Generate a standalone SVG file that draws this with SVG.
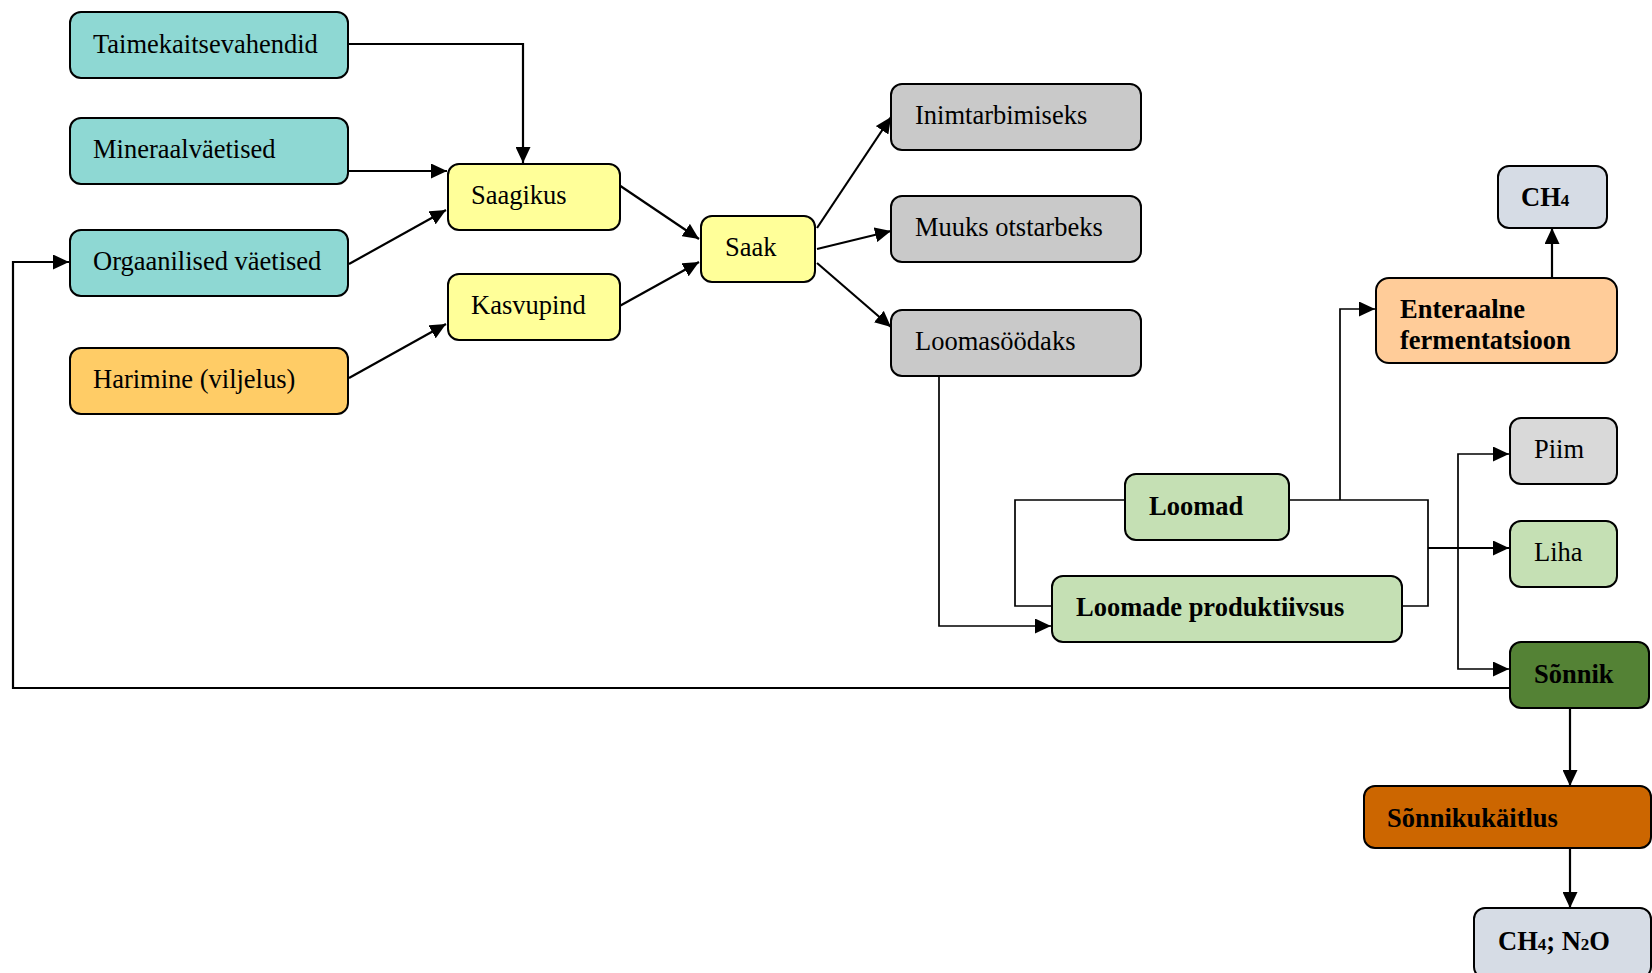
<svg xmlns="http://www.w3.org/2000/svg" width="1652" height="973" viewBox="0 0 1652 973">
<style>
.n rect{stroke:#000;stroke-width:2}
.n text{font-family:"Liberation Serif","Times New Roman",serif;font-size:26.5px;fill:#000}
.b text{font-weight:bold}
.c path{fill:none;stroke:#000;stroke-width:2.2}
.c path.t{stroke-width:1.7}
.teal{fill:#8ED8D3}.yel{fill:#FFFF99}.gry{fill:#C9C9C9}.grn{fill:#C5E0B4}
.blu{fill:#D6DCE5}
</style>
<defs>
<marker id="a" markerUnits="userSpaceOnUse" markerWidth="16" markerHeight="15" refX="16" refY="7.5" orient="auto">
<path d="M0,0 L16,7.5 L0,15 z" fill="#000"/>
</marker>
</defs>
<rect width="1652" height="973" fill="#fff"/>
<g class="c">
<path d="M348,44 H523 V163" marker-end="url(#a)"/>
<path d="M349,171 H447" marker-end="url(#a)"/>
<path d="M349,264 L446,210" marker-end="url(#a)"/>
<path d="M349,378 L446,324" marker-end="url(#a)"/>
<path d="M616,183 L699,239" marker-end="url(#a)"/>
<path d="M616,308 L699,262" marker-end="url(#a)"/>
<path d="M817,228 L891,117" marker-end="url(#a)"/>
<path d="M817,249 L891,231" marker-end="url(#a)"/>
<path d="M817,263 L891,327" marker-end="url(#a)"/>
<path class="t" d="M939,376 V626 H1051" marker-end="url(#a)"/>
<path class="t" d="M1125,500 H1015 V606 H1051"/>
<path class="t" d="M1289,500 H1428 V606 H1402"/>
<path class="t" d="M1340,500 V309 H1375" marker-end="url(#a)"/>
<path d="M1428,548 H1509" marker-end="url(#a)"/>
<path class="t" d="M1458,548 V454 H1509" marker-end="url(#a)"/>
<path class="t" d="M1458,548 V669 H1509" marker-end="url(#a)"/>
<path d="M1552,277 V228" marker-end="url(#a)"/>
<path d="M1570,708 V786" marker-end="url(#a)"/>
<path d="M1570,848 V908" marker-end="url(#a)"/>
<path d="M1510,688 H13 V262 H69" marker-end="url(#a)"/>
</g>
<g id="taimekaitsevahendid" class="n"><rect x="70" y="12" width="278" height="66" rx="11" class="teal"/><text x="93" y="53">Taimekaitsevahendid</text></g>
<g id="mineraalvaetised" class="n"><rect x="70" y="118" width="278" height="66" rx="11" class="teal"/><text x="93" y="158">Mineraalväetised</text></g>
<g id="orgaanilised" class="n"><rect x="70" y="230" width="278" height="66" rx="11" class="teal"/><text x="93" y="270">Orgaanilised väetised</text></g>
<g id="harimine" class="n"><rect x="70" y="348" width="278" height="66" rx="11" fill="#FFCC66"/><text x="93" y="388">Harimine (viljelus)</text></g>
<g id="saagikus" class="n"><rect x="448" y="164" width="172" height="66" rx="11" class="yel"/><text x="471" y="204">Saagikus</text></g>
<g id="kasvupind" class="n"><rect x="448" y="274" width="172" height="66" rx="11" class="yel"/><text x="471" y="314">Kasvupind</text></g>
<g id="saak" class="n"><rect x="701" y="216" width="114" height="66" rx="11" class="yel"/><text x="725" y="256">Saak</text></g>
<g id="inimtarbimiseks" class="n"><rect x="891" y="84" width="250" height="66" rx="11" class="gry"/><text x="915" y="124">Inimtarbimiseks</text></g>
<g id="muuks" class="n"><rect x="891" y="196" width="250" height="66" rx="11" class="gry"/><text x="915" y="236">Muuks otstarbeks</text></g>
<g id="loomasoodaks" class="n"><rect x="891" y="310" width="250" height="66" rx="11" class="gry"/><text x="915" y="350">Loomasöödaks</text></g>
<g id="ch4" class="n b"><rect x="1498" y="166" width="109" height="62" rx="11" class="blu"/><text x="1521" y="206">CH<tspan font-size="17">4</tspan></text></g>
<g id="enteraalne" class="n b"><rect x="1376" y="278" width="241" height="85" rx="13" fill="#FFCC99"/><text x="1400" y="318">Enteraalne</text><text x="1400" y="349">fermentatsioon</text></g>
<g id="piim" class="n"><rect x="1510" y="418" width="107" height="66" rx="11" fill="#D9D9D9"/><text x="1534" y="458">Piim</text></g>
<g id="liha" class="n"><rect x="1510" y="521" width="107" height="66" rx="11" class="grn"/><text x="1534" y="561">Liha</text></g>
<g id="sonnik" class="n b"><rect x="1510" y="642" width="139" height="66" rx="11" fill="#548235"/><text x="1534" y="683">Sõnnik</text></g>
<g id="loomad" class="n b"><rect x="1125" y="474" width="164" height="66" rx="11" class="grn"/><text x="1149" y="515">Loomad</text></g>
<g id="produktiivsus" class="n b"><rect x="1052" y="576" width="350" height="66" rx="11" class="grn"/><text x="1076" y="616">Loomade produktiivsus</text></g>
<g id="sonnikukaitlus" class="n b"><rect x="1364" y="786" width="287" height="62" rx="11" fill="#CC6600"/><text x="1387" y="827">Sõnnikukäitlus</text></g>
<g id="ch4n2o" class="n b"><rect x="1474" y="908" width="177" height="70" rx="11" class="blu"/><text x="1498" y="950">CH<tspan font-size="17">4</tspan>; N<tspan font-size="17">2</tspan>O</text></g>
</svg>
